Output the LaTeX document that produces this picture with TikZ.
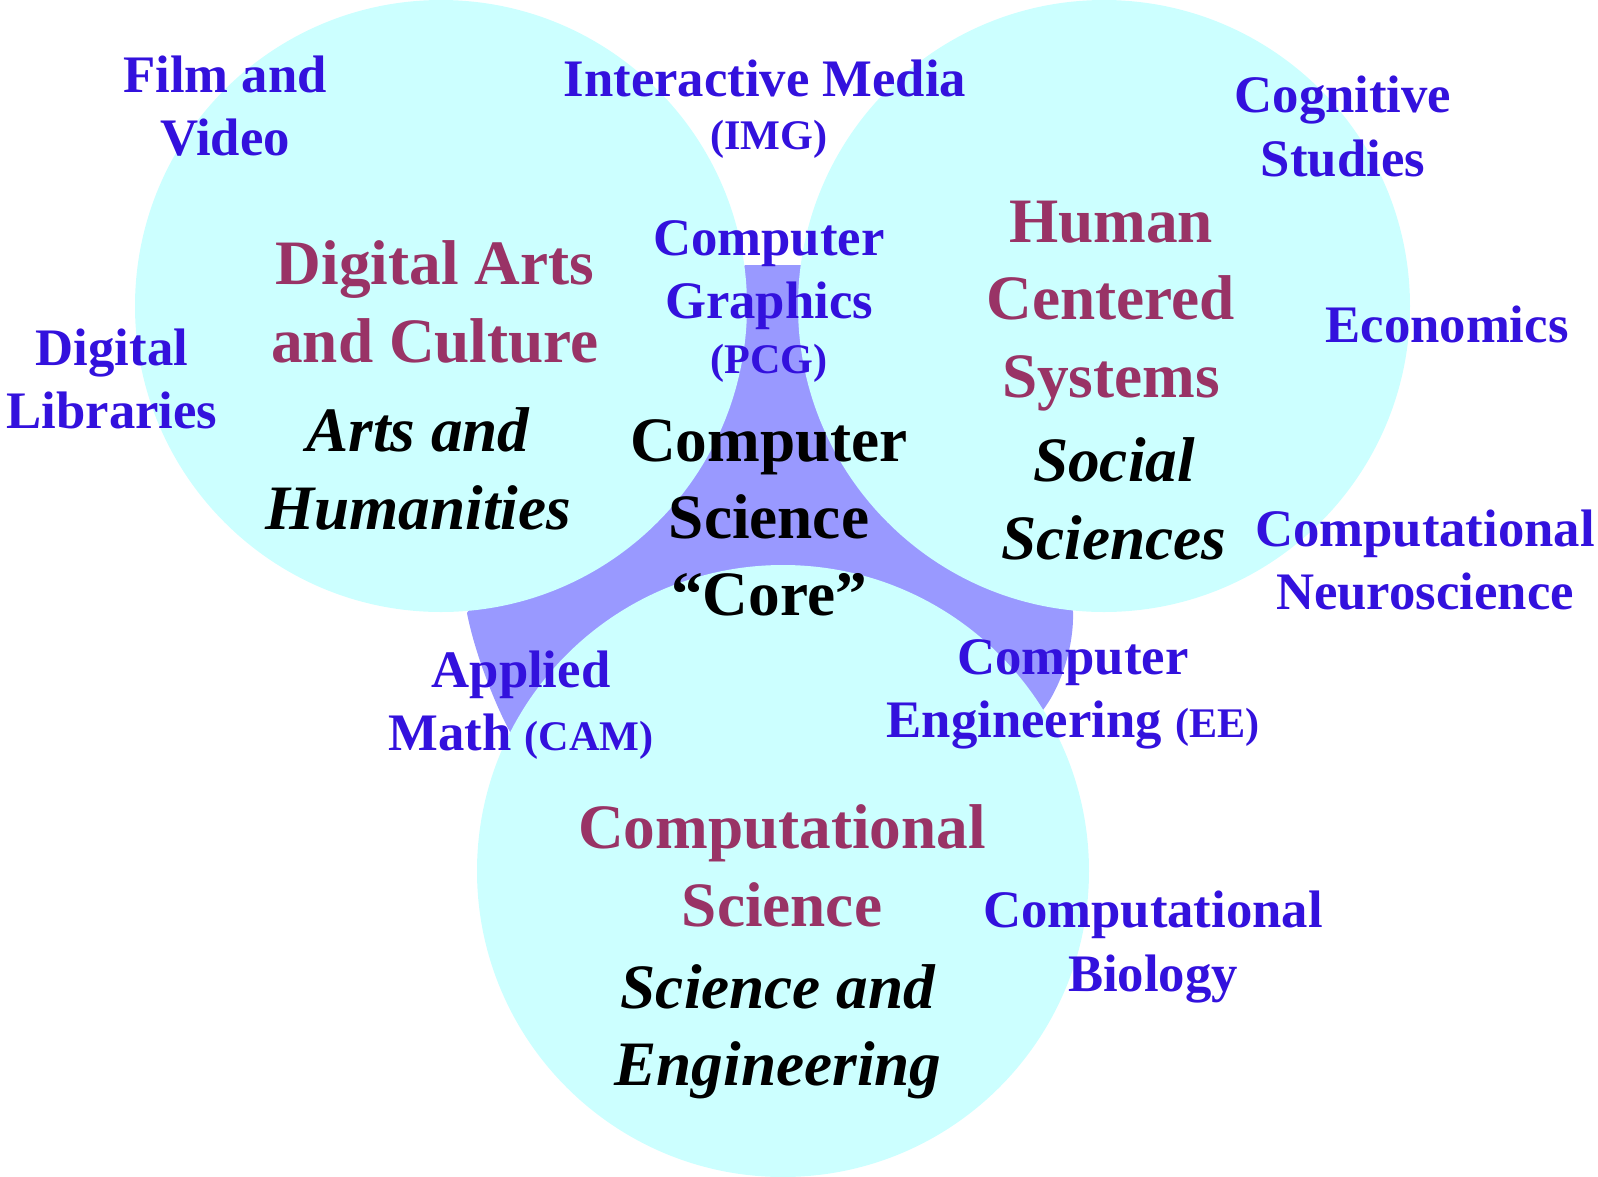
\documentclass[tikz,border=0pt]{standalone}
\usepackage{fontspec}
\setmainfont{Liberation Serif}
\usepackage{tikz}

\definecolor{bubblecyan}{RGB}{204,255,255}
\definecolor{corepurple}{RGB}{153,153,255}
\definecolor{areared}{RGB}{153,51,102}
\definecolor{fieldblue}{RGB}{51,17,221}

\newcommand{\smalltag}[1]{{\fontsize{12}{14}\selectfont #1}}

\begin{document}
\begin{tikzpicture}[
    bubble/.style={fill=bubblecyan, draw=none},
    field/.style={font=\fontsize{15}{18}\selectfont\bfseries, text=fieldblue, align=center, inner sep=0pt},
    tag/.style={font=\fontsize{12}{14}\selectfont\bfseries, text=fieldblue, inner sep=0pt},
    area/.style={font=\fontsize{18}{22}\selectfont\bfseries, text=areared, align=center, inner sep=0pt},
    school/.style={font=\fontsize{18}{22}\selectfont\bfseries\itshape, align=center, inner sep=0pt},
    core/.style={font=\fontsize{18}{22}\selectfont\bfseries, align=center, inner sep=0pt}
]
    \useasboundingbox (0,0) rectangle (15.98,-11.77);

    \fill[corepurple] (7.45,-2.65) -- (8.01,-2.65) -- (9.00,-4.00) -- (10.60,-5.60)
        -- (10.73,-6.12) .. controls (10.74,-6.45) and (10.62,-6.85) .. (10.43,-7.10)
        -- (10.00,-7.00) -- (7.80,-6.00) -- (5.50,-7.00)
        -- (5.13,-7.37) .. controls (4.98,-7.12) and (4.75,-6.55) .. (4.67,-6.13)
        -- (5.00,-5.60) -- (6.50,-4.00) -- cycle;

    \fill[bubble] (4.41,-3.06) circle (3.06);
    \fill[bubble] (11.04,-3.06) circle (3.06);
    \fill[bubble] (7.83,-8.71) circle (3.06);

    \node[field] (film) at (2.25,-1.06) {Film and\\Video};
    \node[field] (imedia) at (7.65,-0.785) {Interactive Media};
    \node[tag] (img) at (7.69,-1.39) {(IMG)};
    \node[field] (cognitive) at (13.43,-1.264) {Cognitive\\Studies};
    \node[field] (diglib) at (1.12,-3.79) {Digital\\Libraries};
    \node[field] (econ) at (14.47,-3.24) {Economics};
    \node[field] (neuro) at (14.25,-5.60) {Computational\\Neuroscience};
    \node[field] (graphics) at (7.69,-2.75) {Computer\\Graphics};
    \node[tag] (pcg) at (7.69,-3.63) {(PCG)};
    \node[field] (applied) at (5.21,-7.05) {Applied\\Math \smalltag{(CAM)}};
    \node[field] (compeng) at (10.73,-6.94) {Computer\\Engineering \smalltag{(EE)}};
    \node[field] (bio) at (11.53,-9.47) {Computational\\Biology};

    \node[area] (dac) at (4.35,-3.02) {Digital Arts\\and Culture};
    \node[school] (arts) at (4.18,-4.69) {Arts and\\Humanities};
    \node[area] (hcs) at (11.11,-3.06) {Human\\Centered\\Systems};
    \node[school] (social) at (11.14,-4.99) {Social\\Sciences};
    \node[area] (compsci) at (7.82,-8.66) {Computational\\Science};
    \node[school] (scieng) at (7.78,-10.32) {Science and\\Engineering};

    \node[core] (cscore) at (7.69,-5.18) {Computer\\Science\\“Core”};
\end{tikzpicture}
\end{document}
